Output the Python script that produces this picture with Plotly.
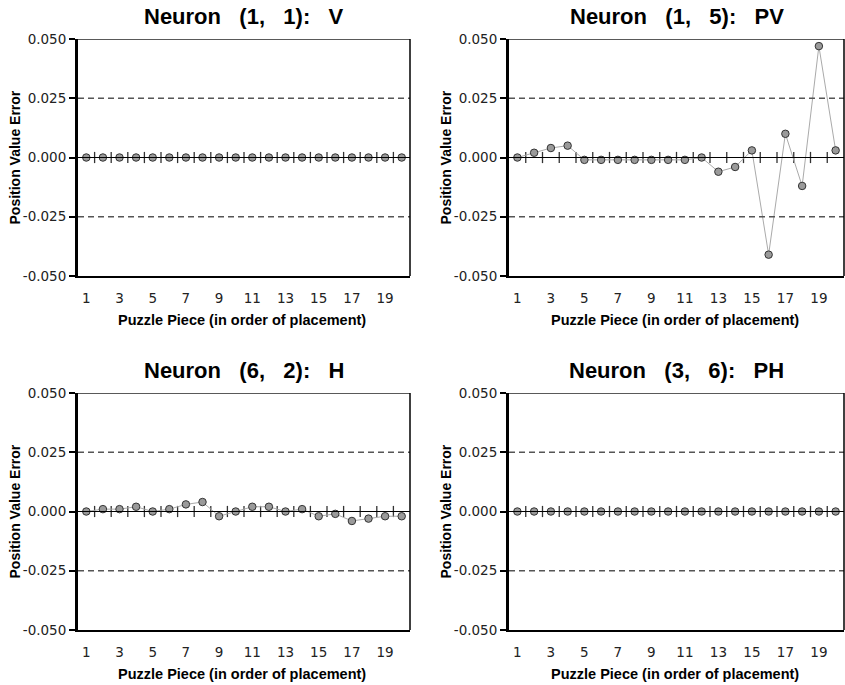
import plotly.graph_objects as go

# Puzzle pieces in order of placement
pieces = list(range(1, 21))

# Position value error per piece for each neuron
err_1_1_v = [0.000, 0.000, 0.000, 0.000, 0.000, 0.000, 0.000, 0.000, 0.000, 0.000,
             0.000, 0.000, 0.000, 0.000, 0.000, 0.000, 0.000, 0.000, 0.000, 0.000]
err_1_5_pv = [0.000, 0.002, 0.004, 0.005, -0.001, -0.001, -0.001, -0.001, -0.001, -0.001,
              -0.001, 0.000, -0.006, -0.004, 0.003, -0.041, 0.010, -0.012, 0.047, 0.003]
err_6_2_h = [0.000, 0.001, 0.001, 0.002, 0.000, 0.001, 0.003, 0.004, -0.002, 0.000,
             0.002, 0.002, 0.000, 0.001, -0.002, -0.001, -0.004, -0.003, -0.002, -0.002]
err_3_6_ph = [0.000, 0.000, 0.000, 0.000, 0.000, 0.000, 0.000, 0.000, 0.000, 0.000,
              0.000, 0.000, 0.000, 0.000, 0.000, 0.000, 0.000, 0.000, 0.000, 0.000]

panel_titles = ["Neuron   (1,   1):   V", "Neuron   (1,   5):   PV",
                "Neuron   (6,   2):   H", "Neuron   (3,   6):   PH"]
series = [err_1_1_v, err_1_5_pv, err_6_2_h, err_3_6_ph]

y_ticks = [0.05, 0.025, 0.0, -0.025, -0.05]
y_tick_text = ["0.050", "0.025", "0.000", "-0.025", "-0.050"]
x_ticks = [1, 3, 5, 7, 9, 11, 13, 15, 17, 19]
# category boundaries, marked across the zero line
boundaries = [1.5, 2.5, 3.5, 4.5, 5.5, 6.5, 7.5, 8.5, 9.5, 10.5,
              11.5, 12.5, 13.5, 14.5, 15.5, 16.5, 17.5, 18.5, 19.5]

W, H = 845, 685
x_domains = [(78 / W, 410 / W), (509 / W, 844 / W)]
y_domains = [(1 - 276 / H, 1 - 39 / H), (1 - 630 / H, 1 - 393 / H)]

TICK_FONT = dict(family="DejaVu Sans", size=13.5, color="#222222")
BOLD = "Liberation Sans"

fig = go.Figure()
layout = dict(
    width=W, height=H,
    margin=dict(l=0, r=0, t=0, b=0, autoexpand=False),
    paper_bgcolor="white", plot_bgcolor="white",
    showlegend=False,
)
annotations = []
shapes = []

for i, (title, vals) in enumerate(zip(panel_titles, series)):
    row, col = divmod(i, 2)
    n = i + 1
    xa = "xaxis" if n == 1 else f"xaxis{n}"
    ya = "yaxis" if n == 1 else f"yaxis{n}"
    xr = "x" if n == 1 else f"x{n}"
    yr = "y" if n == 1 else f"y{n}"

    layout[xa] = dict(
        domain=list(x_domains[col]), anchor=yr, automargin=False,
        range=[0.5, 20.5], tickvals=x_ticks, ticktext=[str(t) for t in x_ticks],
        ticks="", showgrid=False, zeroline=False,
        showline=True, linecolor="black", linewidth=2,
        tickfont=TICK_FONT, ticklabelstandoff=9, fixedrange=True,
    )
    layout[ya] = dict(
        domain=list(y_domains[row]), anchor=xr, automargin=False,
        range=[-0.05, 0.05], tickvals=y_ticks, ticktext=y_tick_text,
        ticks="outside", ticklen=6, tickwidth=1.5, tickcolor="black",
        showgrid=False, zeroline=False,
        showline=True, linecolor="black", linewidth=3,
        tickfont=TICK_FONT, ticklabelstandoff=0, fixedrange=True,
    )

    # dashed reference lines at +/-0.025 and top edge
    for yv in (0.025, -0.025):
        shapes.append(dict(type="line", xref=f"{xr} domain", yref=yr,
                           x0=0, x1=1, y0=yv, y1=yv,
                           line=dict(color="#555555", width=1.3, dash="6px,4px")))
    shapes.append(dict(type="line", xref=f"{xr} domain", yref=yr,
                       x0=0, x1=1, y0=0.05, y1=0.05,
                       line=dict(color="#222222", width=1.5)))
    shapes.append(dict(type="line", xref=f"{xr} domain", yref=f"{yr} domain",
                       x0=1, x1=1, y0=0, y1=1,
                       line=dict(color="black", width=1.5)))
    # zero line
    shapes.append(dict(type="line", xref=f"{xr} domain", yref=yr,
                       x0=0, x1=1, y0=0, y1=0,
                       line=dict(color="black", width=1.2)))

    # boundary tick marks across the zero line
    fig.add_trace(go.Scatter(
        x=boundaries, y=[0] * len(boundaries), xaxis=xr, yaxis=yr,
        mode="markers", hoverinfo="skip",
        marker=dict(symbol="line-ns", size=8, line=dict(color="#333333", width=1.3)),
        cliponaxis=False,
    ))
    # error series
    fig.add_trace(go.Scatter(
        x=pieces, y=vals, xaxis=xr, yaxis=yr, mode="lines+markers",
        line=dict(color="#aaaaaa", width=1),
        marker=dict(size=7.5, color="#9a9a9a", line=dict(color="#333333", width=1)),
        cliponaxis=False,
    ))

    # panel title
    cx = (x_domains[col][0] + x_domains[col][1]) / 2
    top = y_domains[row][1]
    bottom = y_domains[row][0]
    annotations.append(dict(
        text=f"<b>{title.replace(' ', '&nbsp;')}</b>", xref="paper", yref="paper",
        x=cx, y=top + 23 / H, xanchor="center", yanchor="middle", showarrow=False,
        font=dict(family=BOLD, size=22, color="black"),
    ))
    # x axis title
    annotations.append(dict(
        text="<b>Puzzle Piece (in order of placement)</b>", xref="paper", yref="paper",
        x=cx - 2 / W, y=bottom - 44 / H, xanchor="center", yanchor="middle",
        showarrow=False, font=dict(family=BOLD, size=14.5, color="black"),
    ))
    # y axis title
    annotations.append(dict(
        text="<b>Position Value Error</b>", xref="paper", yref="paper",
        x=(x_domains[col][0] * W - 64) / W, y=(top + bottom) / 2,
        xanchor="center", yanchor="middle", textangle=-90,
        showarrow=False, font=dict(family=BOLD, size=14, color="black"),
    ))

layout["annotations"] = annotations
layout["shapes"] = shapes
fig.update_layout(**layout)
fig.write_html("out.html")
